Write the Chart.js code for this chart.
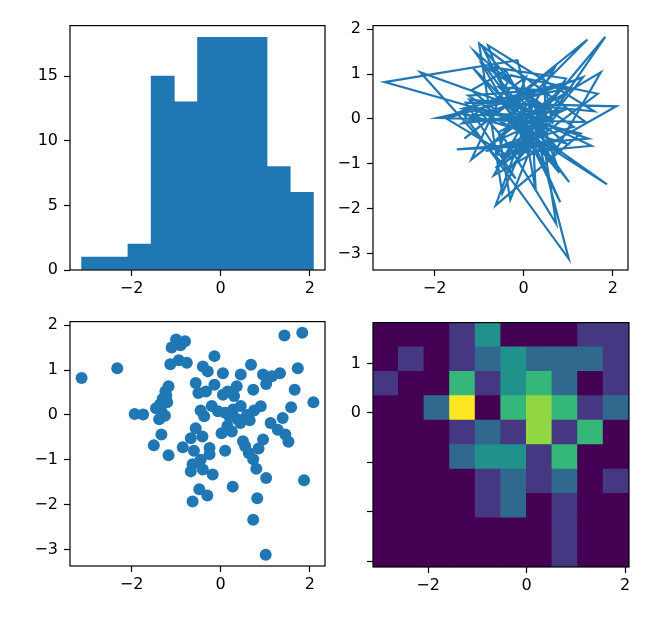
<!DOCTYPE html>
<html><head><meta charset="utf-8">
<script src="https://cdn.jsdelivr.net/npm/chart.js@4"></script>
<style>
html,body{margin:0;padding:0;background:#fff;}
#wrap{position:relative;width:664px;height:620px;overflow:hidden;background:#fff;}
canvas{position:absolute;}
</style></head><body><div id="wrap">
<canvas id="c1"></canvas><canvas id="c2"></canvas><canvas id="c3"></canvas><canvas id="c4"></canvas>
</div>
<script>
// ---- data ----
const pointsX = [
 0.28,-1.33, 1.01,-0.14,-3.12, 0.44, 1.83,-0.63,-0.25, 1.02,
-1.93, 1.39,-1.00,-0.48, 0.15, 1.87,-1.24, 0.36,-0.56, 0.95,
-1.45,-0.50, 1.02,-1.10, 0.45,-0.37, 1.43,-1.33, 0.68,-0.67,
 2.08,-1.30,-0.18,-2.32, 0.59, 0.05,-0.90, 0.82,-0.06, 1.45,
-1.50, 0.50,-0.40,-1.17, 0.63, 1.73,-0.56,-0.30, 0.38,-1.36,
 1.15,-1.74,-0.25, 0.95,-0.76, 0.10,-0.63, 1.28,-1.20, 0.85,
-0.33, 0.10,-0.80, 1.58,-1.22,-0.41, 0.73, 0.30,-0.67, 0.90,
-1.38, 0.05,-0.60, 1.52,-0.20,-1.13, 0.80, 0.25,-0.45, 1.66,
-0.29,-1.17, 0.73, 0.20,-1.25, 1.33,-0.40, 0.75,-0.94, 0.02,
-0.85, 1.12,-0.14, 0.27, 0.16, 0.73,-0.45, 0.55, 0.45, 0.65];
const pointsY = [
 0.12, 0.08,-3.12, 1.31, 0.82,-0.18, 1.83,-1.10,-0.74, 0.69,
 0.02,-0.07, 1.68,-1.66,-0.25,-1.46, 0.52, 0.64, 0.71,-0.55,
 0.15, 0.49,-1.41, 1.50, 0.20,-0.03, 1.77,-0.44, 1.12,-1.26,
 0.28, 0.36,-1.33, 1.04, 0.00, 0.45, 1.55,-1.86, 0.08,-0.44,
-0.68,-0.59, 1.08, 0.64,-0.85, 1.04,-0.30,-1.80,-0.10, 0.23,
 0.86, 0.01,-0.88, 0.90, 1.16, 0.05,-1.93,-0.33, 0.28,-0.75,
 0.52,-0.80, 1.64, 0.17, 0.43,-0.48,-2.34, 0.42,-0.52, 0.19,
-0.10, 0.93,-0.80,-0.60, 0.20, 1.13,-1.20,-0.37,-1.00, 0.56,
 0.97,-0.90, 0.56,-0.05,-0.02, 0.93,-1.22, 0.10, 1.22,-0.41,
-0.72,-0.18, 0.67,-1.60, 0.52,-0.99, 0.10,-0.70, 0.90,-0.12];

const histEdges  = [-3.12,-2.60,-2.08,-1.56,-1.04,-0.52,0.00,0.52,1.04,1.56,2.08];
const histCounts = [1,1,2,15,13,18,18,18,8,6];

const h2dXEdges = [-3.12,-2.60,-2.08,-1.56,-1.04,-0.52,0.00,0.52,1.04,1.56,2.08];
const h2dYEdges = [1.83,1.335,0.84,0.345,-0.15,-0.645,-1.14,-1.635,-2.13,-2.625,-3.12]; // top -> bottom
const h2dCounts = [
 [0,0,0,1,3,0,0,0,1,1],
 [0,1,0,1,2,3,2,2,2,1],
 [1,0,0,4,1,3,4,2,0,1],
 [0,0,2,6,0,4,5,4,1,2],
 [0,0,0,1,2,1,5,1,4,0],
 [0,0,0,2,3,3,1,4,0,0],
 [0,0,0,0,1,2,1,2,0,1],
 [0,0,0,0,1,2,0,1,0,0],
 [0,0,0,0,0,0,0,1,0,0],
 [0,0,0,0,0,0,0,1,0,0]];

const xTickVals     = [-2,0,2];
const histYTickVals = [0,5,10,15];
const lineYTickVals = [-3,-2,-1,0,1,2];
const h2dYTickVals  = [-3,-2,-1,0,1];
const h2dYLabeled   = [0,1];

// ---- styling ----
const BLUE = '#1f77b4';
const viridis = ['#440154','#453781','#31688e','#21918c','#35b779','#90d743','#fde725'];
Chart.defaults.font.family = "'DejaVu Sans', sans-serif";
Chart.defaults.font.size = 16;
Chart.defaults.color = '#000';

const AXW = 60, AXH = 40, PADT = 12, PADR = 14;
const boxes = {
  c1: {l:70,  t:22,  r:325, b:270},
  c2: {l:373, t:22,  r:628, b:270},
  c3: {l:70,  t:318, r:325, b:566},
  c4: {l:373, t:319, r:629, b:567}
};
function placeCanvas(id){
  const b = boxes[id], cv = document.getElementById(id);
  const w = (b.r-b.l)+AXW+PADR, h = (b.b-b.t)+PADT+AXH;
  cv.width = w; cv.height = h;
  cv.style.left = (b.l-AXW)+'px'; cv.style.top = (b.t-PADT)+'px';
  cv.style.width = w+'px'; cv.style.height = h+'px';
  return cv;
}
const fmt = v => String(v).replace('-', '\u2212');
function axis(kind, min, max, tickVals, labelOK){
  return {
    type:'linear', min, max, offset:false, grace:0,
    afterBuildTicks: s => { s.ticks = tickVals.map(v => ({value:v})); },
    afterFit: s => { if(kind==='x') s.height = AXH; else s.width = AXW; },
    grid:{display:true, offset:false, drawOnChartArea:false, drawTicks:true, tickLength:6, tickWidth:1.2, tickColor:'#000'},
    border:{display:false},
    ticks:{padding: kind==='x' ? 3 : 6, color:'#000',
      callback: v => (labelOK && !labelOK.includes(v)) ? '' : fmt(v)}
  };
}
const boxPlugin = {id:'box', afterDatasetsDraw(chart){
  const {ctx, chartArea:a} = chart; ctx.save();
  ctx.strokeStyle = '#000'; ctx.lineWidth = 1.2;
  ctx.strokeRect(a.left, a.top, a.right-a.left, a.bottom-a.top); ctx.restore();
}};
const common = {
  responsive:false, animation:false, devicePixelRatio:1,
  layout:{padding:{left:0, top:PADT, right:PADR, bottom:0}},
  plugins:{legend:{display:false}, tooltip:{enabled:false}}
};
const xLo = -3.38, xHi = 2.34, yLo = -3.37, yHi = 2.08;

// 1. histogram
new Chart(placeCanvas('c1'), {
  type:'bar',
  data:{datasets:[{
    data: histCounts.map((c,i)=>({x:(histEdges[i]+histEdges[i+1])/2, y:c})),
    backgroundColor: BLUE, borderWidth:0, barPercentage:1, categoryPercentage:1
  }]},
  options:{...common, scales:{x:axis('x',xLo,xHi,xTickVals), y:axis('y',0,18.9,histYTickVals)}},
  plugins:[boxPlugin]
});

// 2. line
new Chart(placeCanvas('c2'), {
  type:'scatter',
  data:{datasets:[{
    data: pointsX.map((x,i)=>({x, y:pointsY[i]})),
    showLine:true, borderColor:BLUE, borderWidth:2.2, pointRadius:0, tension:0, fill:false
  }]},
  options:{...common, scales:{x:axis('x',xLo,xHi,xTickVals), y:axis('y',yLo,yHi,lineYTickVals)}},
  plugins:[boxPlugin]
});

// 3. scatter
new Chart(placeCanvas('c3'), {
  type:'scatter',
  data:{datasets:[{
    data: pointsX.map((x,i)=>({x, y:pointsY[i]})),
    backgroundColor:BLUE, borderColor:BLUE, borderWidth:0, pointRadius:6
  }]},
  options:{...common, scales:{x:axis('x',xLo,xHi,xTickVals), y:axis('y',yLo,yHi,lineYTickVals)}},
  plugins:[boxPlugin]
});

// 4. 2D histogram
const cells = [], cellColors = [];
h2dCounts.forEach((row,r)=>row.forEach((n,c)=>{
  cells.push({x:(h2dXEdges[c]+h2dXEdges[c+1])/2, y:[h2dYEdges[r+1], h2dYEdges[r]]});
  cellColors.push(viridis[n]);
}));
new Chart(placeCanvas('c4'), {
  type:'bar',
  data:{datasets:[{data:cells, backgroundColor:cellColors, borderWidth:0,
    barPercentage:1, categoryPercentage:1, inflateAmount:0.6}]},
  options:{...common, scales:{
    x:axis('x',h2dXEdges[0],h2dXEdges[10],xTickVals),
    y:axis('y',h2dYEdges[10],h2dYEdges[0],h2dYTickVals,h2dYLabeled)}},
  plugins:[boxPlugin]
});
</script></body></html>
